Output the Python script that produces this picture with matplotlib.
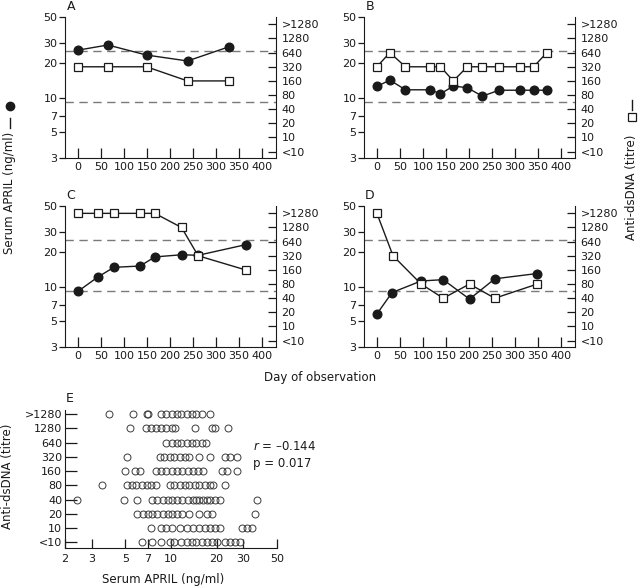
"""Serum APRIL vs anti-dsDNA: four time courses and a pooled scatter."""
import matplotlib

matplotlib.use("Agg")
from matplotlib import pyplot as plt
from matplotlib.lines import Line2D
from matplotlib.ticker import FixedFormatter, FixedLocator, NullLocator

W, H = 640, 588
INK = "#1a1a1a"

TITRES = ["<10", "10", "20", "40", "80", "160", "320", "640", "1280", ">1280"]
APRIL_TICKS = [3, 5, 7, 10, 20, 30, 50]
DAY_TICKS = [0, 50, 100, 150, 200, 250, 300, 350, 400]
SCATTER_X_TICKS = [2, 3, 5, 7, 10, 20, 30, 50]
CUTOFFS = [25.5, 9.2]

# panel A
a_days = [0, 65, 149, 238, 328]
a_april = [25.8, 28.6, 23.4, 20.8, 27.6]
a_titre = ["320", "320", "320", "160", "160"]

# panel B
b_days = [0, 28, 62, 116, 138, 166, 196, 229, 265, 311, 340, 369]
b_april = [12.5, 14.2, 11.7, 11.7, 10.8, 12.6, 12.2, 10.3, 11.6, 11.6, 11.6, 11.6]
b_titre = ["320", "640", "320", "320", "320", "160", "320", "320", "320", "320", "320", "640"]

# panel C
c_days = [0, 43, 78, 135, 167, 225, 261, 364]
c_april = [9.1, 12.1, 14.7, 15.1, 18.1, 18.9, 18.7, 23.1]
c_titre = [">1280", ">1280", ">1280", ">1280", ">1280", "1280", "320", "160"]

# panel D
d_days = [0, 33, 96, 144, 201, 256, 348]
d_april = [5.8, 8.9, 11.2, 11.5, 7.8, 11.7, 13.0]
d_titre_days = [0, 35, 96, 144, 201, 256, 348]
d_titre = [">1280", "320", "80", "40", "80", "40", "80"]

# panel E: serum APRIL (ng/ml) per anti-dsDNA titre
e_lt10 = [6.4, 7.5, 8.6, 9.8, 10.5, 11.7, 12.7, 13.7, 14.7, 15.9, 17.2, 18.5, 20.0, 22.6, 24.4, 26.3, 28.4]
e_10 = [7.4, 8.6, 9.3, 10.2, 11.4, 12.7, 13.9, 15.4, 16.7, 18.0, 19.4, 20.9, 29.3, 31.6, 34.1]
e_20 = [6.0, 6.5, 7.0, 7.5, 8.1, 8.8, 9.5, 10.2, 11.0, 11.9, 13.2, 15.2, 17.2, 18.5, 35.7]
e_40 = [2.4, 4.9, 6.0, 7.5, 8.1, 8.8, 9.5, 10.2, 11.0, 11.9, 12.9, 13.9, 14.7, 15.4, 16.2, 17.2,
        18.0, 19.4, 20.9, 36.8]
e_80 = [3.5, 5.1, 5.5, 5.9, 6.4, 6.9, 7.4, 8.0, 9.8, 10.5, 11.4, 12.3, 13.2, 14.3, 15.4, 16.7,
        18.0, 18.8, 22.6]
e_160 = [5.0, 5.8, 6.2, 8.0, 8.6, 9.3, 10.1, 10.9, 11.9, 12.9, 13.9, 15.0, 16.2, 21.6, 23.3, 27.1]
e_320 = [5.1, 8.4, 9.0, 9.8, 10.5, 11.4, 12.3, 13.2, 15.4, 18.0, 22.6, 24.4, 27.1]
e_640 = [9.3, 10.1, 10.9, 11.7, 12.7, 13.7, 14.7, 15.9, 16.9]
e_1280 = [5.4, 6.8, 7.4, 8.0, 8.6, 9.3, 10.1, 10.7, 14.5, 18.5, 19.4, 23.7]
e_gt1280 = [3.9, 5.6, 6.9, 7.1, 8.6, 9.3, 10.1, 10.9, 11.7, 12.7, 13.7, 14.7, 15.9, 18.0]
e_rows = [e_lt10, e_10, e_20, e_40, e_80, e_160, e_320, e_640, e_1280, e_gt1280]

plt.rcParams["font.family"] = "DejaVu Sans"
plt.rcParams["font.size"] = 8
plt.rcParams["text.color"] = INK
plt.rcParams["axes.edgecolor"] = INK
plt.rcParams["xtick.color"] = INK
plt.rcParams["ytick.color"] = INK


def _rect(left, top, right, bottom):
    return [left / W, 1 - bottom / H, (right - left) / W, (bottom - top) / H]


def _fig_text(fig, x, y, s, **kw):
    fig.text(x / W, 1 - y / H, s, **kw)


def _time_panel(fig, rect, letter, days, april, titre_days, titre):
    ax = fig.add_axes(rect)
    ax.set_yscale("log")
    ax.set_ylim(3, 50)
    ax.set_xlim(-28, 430)
    ax.yaxis.set_major_locator(FixedLocator(APRIL_TICKS))
    ax.yaxis.set_major_formatter(FixedFormatter([str(t) for t in APRIL_TICKS]))
    ax.yaxis.set_minor_locator(NullLocator())
    ax.set_xticks(DAY_TICKS)
    ax.tick_params(axis="x", direction="in", length=7.5, width=0.9, pad=3)
    ax.tick_params(axis="y", direction="out", length=4, width=0.9, pad=1.5)
    for side in ("top", "right"):
        ax.spines[side].set_visible(False)
    for cut in CUTOFFS:
        ax.axhline(cut, color="#7a7a7a", linewidth=1.0, dashes=(6, 4))

    tw = ax.twinx()
    tw.set_ylim(-0.45, 9.52)
    tw.set_yticks(range(len(TITRES)))
    tw.set_yticklabels(TITRES)
    tw.tick_params(axis="y", direction="in", length=5.5, width=0.9, pad=4)
    for side in ("top", "left", "bottom"):
        tw.spines[side].set_visible(False)
    tw.plot(titre_days, [TITRES.index(t) for t in titre], "-s", color=INK, lw=1.0,
            ms=6, mfc="white", mec=INK, mew=0.9, clip_on=False)
    ax.plot(days, april, "-o", color=INK, lw=1.0, ms=6.2, clip_on=False)
    x0 = rect[0] * W
    y0 = (1 - rect[1] - rect[3]) * H
    _fig_text(fig, x0 + 6, y0 - 11, letter, fontsize=9, ha="center", va="center")


fig = plt.figure(figsize=(W / 100, H / 100), dpi=100)

_time_panel(fig, _rect(65, 17, 276, 158), "A", a_days, a_april, a_days, a_titre)
_time_panel(fig, _rect(364, 17, 575, 158), "B", b_days, b_april, b_days, b_titre)
_time_panel(fig, _rect(65, 206, 276, 347), "C", c_days, c_april, c_days, c_titre)
_time_panel(fig, _rect(364, 206, 575, 347), "D", d_days, d_april, d_titre_days, d_titre)

# shared labels for the time courses
_fig_text(fig, 10, 193, "Serum APRIL (ng/ml)", rotation=90, ha="center", va="center", fontsize=8.5)
_fig_text(fig, 632, 187, "Anti-dsDNA (titre)", rotation=90, ha="center", va="center", fontsize=8.5)
_fig_text(fig, 320, 377, "Day of observation", ha="center", va="center", fontsize=8.5)
fig.add_artist(Line2D([10 / W, 10 / W], [1 - 118 / H, 1 - 128 / H], color=INK, lw=1.0,
                      transform=fig.transFigure))
fig.add_artist(Line2D([10 / W], [1 - 106 / H], marker="o", ms=6, color=INK, lw=0,
                      transform=fig.transFigure))
fig.add_artist(Line2D([632 / W, 632 / W], [1 - 100 / H, 1 - 110 / H], color=INK, lw=1.0,
                      transform=fig.transFigure))
fig.add_artist(Line2D([632 / W], [1 - 117 / H], marker="s", ms=5.5, mfc="white", mec=INK,
                      mew=0.9, lw=0, transform=fig.transFigure))

# panel E scatter
ax_e = fig.add_axes(_rect(65, 410, 277, 548))
for level, values in enumerate(e_rows):
    ax_e.plot(values, [level] * len(values), "o", ms=5, mfc="none", mec="#3a3a3a", mew=0.7,
              clip_on=False)
ax_e.set_xscale("log")
ax_e.set_xlim(2, 50)
ax_e.set_ylim(-0.4, 9.3)
ax_e.xaxis.set_major_locator(FixedLocator(SCATTER_X_TICKS))
ax_e.xaxis.set_major_formatter(FixedFormatter([str(t) for t in SCATTER_X_TICKS]))
ax_e.xaxis.set_minor_locator(NullLocator())
ax_e.set_yticks(range(len(TITRES)))
ax_e.set_yticklabels(TITRES)
ax_e.tick_params(axis="x", direction="in", length=6.5, width=0.9, pad=4)
ax_e.tick_params(axis="y", direction="in", length=8.5, width=0.9, pad=2)
for side in ("top", "right"):
    ax_e.spines[side].set_visible(False)
_fig_text(fig, 70, 398, "E", fontsize=9, ha="center", va="center")
_fig_text(fig, 163, 580, "Serum APRIL (ng/ml)", ha="center", va="center", fontsize=8.5)
_fig_text(fig, 8, 476, "Anti-dsDNA (titre)", rotation=90, ha="center", va="center", fontsize=8.5)
_fig_text(fig, 253, 447, "$r$ = \u20130.144", ha="left", va="center", fontsize=8.5)
_fig_text(fig, 253, 463, "p = 0.017", ha="left", va="center", fontsize=8.5)

fig.savefig("out.png", dpi=100)
plt.close(fig)
